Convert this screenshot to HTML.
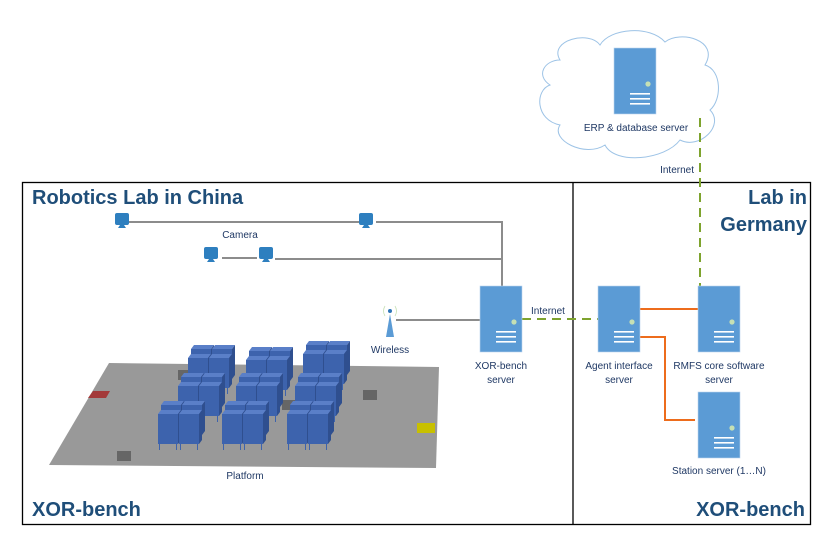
<!DOCTYPE html>
<html><head><meta charset="utf-8"><style>
body{margin:0;background:#fff;}
svg{display:block;font-family:"Liberation Sans",sans-serif;}
.l{font-size:10px;fill:#1f3864;}
.t{font-size:20px;font-weight:bold;fill:#1f4e79;}
</style></head><body>
<svg width="831" height="547" viewBox="0 0 831 547" xmlns="http://www.w3.org/2000/svg">
<defs>
<g id="srv">
<rect x="0" y="0" width="42" height="66" fill="#5b9bd5" stroke="#bcd4ee" stroke-width="0.6"/>
<circle cx="34" cy="36" r="2.6" fill="#c5e0b4"/>
<rect x="16" y="45" width="20" height="1.6" fill="#fff"/>
<rect x="16" y="50" width="20" height="1.6" fill="#fff"/>
<rect x="16" y="55" width="20" height="1.6" fill="#fff"/>
</g>
<g id="cam">
<rect x="0" y="0" width="14" height="12" rx="2" fill="#2e7fbf"/>
<path d="M5 12 L9 12 L11 15 L3 15 Z" fill="#2e7fbf"/>
</g>
<g id="pod">
<path d="M0 4 L3 0 L23 0 L20 4 Z" fill="#5a7fc8"/>
<path d="M20 4 L23 0 L23 30 L20 34 Z" fill="#2f4f8f"/>
<rect x="0" y="4" width="20" height="30" fill="#3d63ad"/>
<rect x="1" y="34" width="1" height="6" fill="#3d63ad"/>
<rect x="18" y="34" width="1" height="6" fill="#3d63ad"/>
</g>
<g id="cl">
<use href="#pod" x="3" y="-9"/><use href="#pod" x="24" y="-9"/>
<use href="#pod" x="0" y="0"/><use href="#pod" x="21" y="0"/>
</g>
</defs>

<!-- cloud -->
<path d="M560 60 C548 40 590 30 600 45 C610 28 650 25 665 42 C680 30 720 40 705 65 C722 70 722 100 710 110 C725 125 700 150 680 140 C665 160 615 165 605 145 C585 158 550 140 560 125 C535 120 535 90 550 85 C535 75 545 60 560 60 Z" fill="#fff" stroke="#9dc3e6" stroke-width="1"/>
<use href="#srv" x="614" y="48"/>
<text class="l" x="636" y="131" text-anchor="middle">ERP &amp; database server</text>

<!-- frames -->
<rect x="22.5" y="182.5" width="788" height="342" fill="none" stroke="#000" stroke-width="1.3"/>
<line x1="573" y1="182" x2="573" y2="525" stroke="#000" stroke-width="1.3"/>

<text class="t" x="32" y="204">Robotics Lab in China</text>
<text class="t" x="807" y="204" text-anchor="end">Lab in</text>
<text class="t" x="807" y="231" text-anchor="end">Germany</text>
<text class="t" x="32" y="516">XOR-bench</text>
<text class="t" x="805" y="516" text-anchor="end">XOR-bench</text>

<!-- gray lines -->
<g stroke="#8c8c8c" stroke-width="2" fill="none">
<line x1="129" y1="222" x2="359" y2="222"/>
<polyline points="376,222 502,222 502,286"/>
<line x1="222" y1="258" x2="257" y2="258"/>
<line x1="275" y1="259" x2="502" y2="259"/>
<line x1="396" y1="320" x2="480" y2="320"/>
</g>
<use href="#cam" x="115" y="213"/>
<use href="#cam" x="359" y="213"/>
<use href="#cam" x="204" y="247"/>
<use href="#cam" x="259" y="247"/>
<text class="l" x="240" y="238" text-anchor="middle">Camera</text>

<!-- antenna -->
<path d="M390 314 L394 337 L386 337 Z" fill="#5b9bd5"/>
<circle cx="390" cy="311" r="2" fill="#2e75b6"/>
<path d="M385 306 Q382 311 385 316 M395 306 Q398 311 395 316" stroke="#c5e0b4" fill="none" stroke-width="0.8"/>
<text class="l" x="390" y="353" text-anchor="middle">Wireless</text>

<!-- dashed internet -->
<g stroke="#7ea32e" stroke-width="2" stroke-dasharray="9,6" fill="none">
<line x1="522" y1="319" x2="598" y2="319"/>
<line x1="700" y1="118" x2="700" y2="286"/>
</g>
<text class="l" x="548" y="314" text-anchor="middle">Internet</text>
<text class="l" x="694" y="173" text-anchor="end">Internet</text>

<!-- orange -->
<g stroke="#ed6c1c" stroke-width="2" fill="none">
<line x1="640" y1="309" x2="698" y2="309"/>
<polyline points="640,337 665,337 665,420 695,420"/>
</g>

<use href="#srv" x="480" y="286"/>
<text class="l" x="501" y="369" text-anchor="middle">XOR-bench</text>
<text class="l" x="501" y="383" text-anchor="middle">server</text>
<use href="#srv" x="598" y="286"/>
<text class="l" x="619" y="369" text-anchor="middle">Agent interface</text>
<text class="l" x="619" y="383" text-anchor="middle">server</text>
<use href="#srv" x="698" y="286"/>
<text class="l" x="719" y="369" text-anchor="middle">RMFS core software</text>
<text class="l" x="719" y="383" text-anchor="middle">server</text>
<use href="#srv" x="698" y="392"/>
<text class="l" x="719" y="474" text-anchor="middle">Station server (1…N)</text>

<!-- platform -->
<path d="M109 363 L439 367 L436 468 L49 465 Z" fill="#999"/>
<path d="M93 391 L110 391 L106 398 L88 398 Z" fill="#a33a3a"/>
<rect x="417" y="423" width="18" height="10" fill="#c8c000"/>
<rect x="117" y="451" width="14" height="10" fill="#666"/>
<rect x="363" y="390" width="14" height="10" fill="#666"/>
<rect x="282" y="400" width="14" height="10" fill="#666"/>
<rect x="178" y="370" width="12" height="10" fill="#666"/>
<use href="#cl" x="188" y="354"/>
<use href="#cl" x="246" y="356"/>
<use href="#cl" x="303" y="350"/>
<use href="#cl" x="178" y="382"/>
<use href="#cl" x="236" y="382"/>
<use href="#cl" x="295" y="382"/>
<use href="#cl" x="158" y="410"/>
<use href="#cl" x="222" y="410"/>
<use href="#cl" x="287" y="410"/>
<text class="l" x="245" y="479" text-anchor="middle">Platform</text>
</svg>
</body></html>
